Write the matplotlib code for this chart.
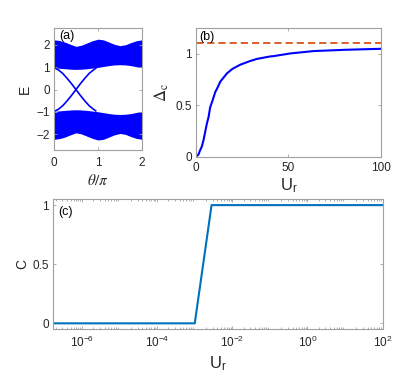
import numpy as np
import matplotlib
matplotlib.use("Agg")
import matplotlib.pyplot as plt
from matplotlib.ticker import LogLocator, NullFormatter, FixedLocator

plt.rcParams["font.family"] = ["Liberation Sans", "DejaVu Sans"]
plt.rcParams["mathtext.fontset"] = "stix"

# ---- panel (a): spectrum vs theta/pi ----
theta_band = [0, .125, .25, .375, .5, .625, .75, .875, 1.0,
              1.125, 1.25, 1.375, 1.5, 1.625, 1.75, 1.875, 2.0]
band_top = [2.22, 2.19, 2.12, 2.02, 1.93, 1.98, 2.08, 2.18, 2.25,
            2.22, 2.12, 2.02, 1.96, 2.00, 2.10, 2.18, 2.22]
band_gap = [0.98, 0.95, 0.93, 0.91, 0.90, 0.91, 0.93, 0.96, 0.99,
            1.03, 1.07, 1.10, 1.11, 1.10, 1.07, 1.02, 0.97]
theta_edge = [0, 0.1, 0.2, 0.3, 0.4, 0.5, 0.6, 0.7, 0.8, 0.9, 0.95]
edge_E = [0.98, 0.88, 0.72, 0.50, 0.26, 0.0, -0.26, -0.50, -0.72, -0.88, -0.95]

# ---- panel (b): Delta_c vs U_r ----
U_b = [0, 1.4, 2.3, 3.2, 4.1, 5.0, 5.9, 6.9, 7.7, 8.7, 10.5, 11.4, 13.2,
       15.0, 16.8, 19.5, 20.4, 24, 29.4, 33, 40.2, 42, 51, 63.6, 81.6, 100]
delta_c = [0, 0.023, 0.065, 0.10, 0.16, 0.24, 0.32, 0.39, 0.48, 0.53, 0.63,
           0.66, 0.73, 0.77, 0.81, 0.85, 0.86, 0.894, 0.93, 0.95, 0.974,
           0.977, 1.003, 1.026, 1.039, 1.048]
delta_ref = 1.1

# ---- panel (c): Chern number vs U_r ----
U_c = [1.7e-7, 1e-3, 2.8e-3, 100]
chern = [0, 0, 1, 1]

BLUE = "#0000FF"
MBLUE = "#0072BD"
ORANGE = "#D95319"
SPINE = "#a0a0a0"
TXT = "#262626"
TFS = 8.5
LFS = 10

fig = plt.figure(figsize=(4.15, 3.78), dpi=100)


def style(ax, xpad=5):
    for s in ax.spines.values():
        s.set_color(SPINE)
        s.set_linewidth(0.8)
    ax.tick_params(direction="in", which="both", top=True, right=True,
                   color=SPINE, labelcolor=TXT, labelsize=TFS, length=2.5,
                   width=0.6, pad=3)
    ax.tick_params(axis="x", pad=xpad)
    ax.tick_params(which="minor", length=1.5)


# (a)
axa = fig.add_axes([0.130, 0.603, 0.212, 0.323])
tb = np.asarray(theta_band)
top = np.asarray(band_top)
gap = np.asarray(band_gap)
axa.fill_between(tb, gap, top, color=BLUE, lw=0)
axa.fill_between(tb, -top, -gap, color=BLUE, lw=0)
te = np.asarray(theta_edge)
ee = np.asarray(edge_E)
axa.plot(te, ee, color=BLUE, lw=1.2)
axa.plot(te, -ee, color=BLUE, lw=1.2)
axa.set_xlim(0, 2)
axa.set_ylim(-2.7, 2.75)
axa.set_xticks([0, 1, 2])
axa.set_yticks([-2, -1, 0, 1, 2])
axa.set_xlabel(r"$\theta/\pi$", fontsize=LFS + 1, color=TXT, labelpad=3)
axa.set_ylabel("E", fontsize=LFS, color=TXT, labelpad=3)
axa.text(0.06, 0.98, "(a)", transform=axa.transAxes, ha="left", va="top",
         fontsize=9, color="black")
style(axa)

# (b)
axb = fig.add_axes([0.472, 0.585, 0.446, 0.341])
axb.plot(U_b, delta_c, color=BLUE, lw=1.5)
axb.axhline(delta_ref, color=ORANGE, lw=1.3, ls=(0, (4, 2.2)))
axb.set_xlim(0, 100)
axb.set_ylim(0, 1.25)
axb.set_xticks([0, 50, 100])
axb.set_yticks([0, 0.5, 1])
axb.set_yticklabels(["0", "0.5", "1"])
axb.set_xlabel(r"$\mathregular{U_r}$", fontsize=LFS + 2, color=TXT, labelpad=1)
axb.set_ylabel(r"$\Delta_\mathrm{c}$", fontsize=LFS + 2, color=TXT, labelpad=3)
axb.text(0.02, 0.98, "(b)", transform=axb.transAxes, ha="left", va="top",
         fontsize=9, color="black")
style(axb, xpad=4)

# (c)
axc = fig.add_axes([0.128, 0.129, 0.794, 0.344])
axc.plot(U_c, chern, color=MBLUE, lw=1.5)
axc.set_xscale("log")
axc.set_xlim(1.7e-7, 100)
axc.set_ylim(-0.05, 1.05)
axc.xaxis.set_major_locator(FixedLocator([1e-6, 1e-4, 1e-2, 1e0, 1e2]))
axc.xaxis.set_minor_locator(LogLocator(base=10, subs=np.arange(2, 10), numticks=20))
axc.xaxis.set_minor_formatter(NullFormatter())
axc.set_yticks([0, 0.5, 1])
axc.set_yticklabels(["0", "0.5", "1"])
axc.set_xlabel(r"$\mathregular{U_r}$", fontsize=LFS + 2, color=TXT, labelpad=3)
axc.set_ylabel("C", fontsize=LFS, color=TXT, labelpad=2)
axc.text(0.015, 0.95, "(c)", transform=axc.transAxes, ha="left", va="top",
         fontsize=9, color="black")
style(axc, xpad=4)

fig.savefig("out.png", dpi=100)
